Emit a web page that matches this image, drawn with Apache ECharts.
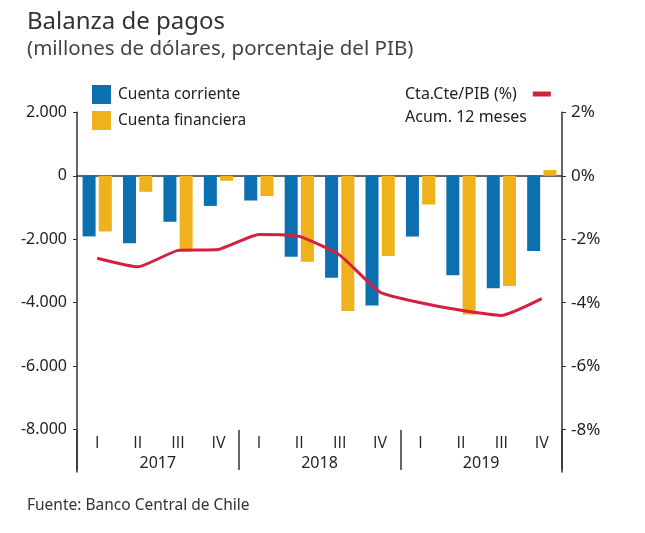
<!DOCTYPE html>
<html>
<head>
<meta charset="utf-8">
<script src="https://cdn.jsdelivr.net/npm/echarts@6/dist/echarts.min.js"></script>
<style>
html,body{margin:0;padding:0;background:#fff;}
#c{width:645px;height:533px;}
</style>
</head>
<body>
<div id="c"></div>
<script>
const quarters = ['I','II','III','IV','I','II','III','IV','I','II','III','IV'];
const years = ['2017','2018','2019'];
const cuentaCorriente = [-1910, -2125, -1450, -950, -780, -2555, -3210, -4085, -1915, -3135, -3540, -2370];
const cuentaFinanciera = [-1755, -505, -2350, -160, -640, -2705, -4260, -2525, -905, -4370, -3475, 180];
const ctaCtePIB = [-2.60, -2.87, -2.35, -2.32, -1.85, -1.91, -2.50, -3.67, -4.00, -4.24, -4.40, -3.87];
const leftTicks = [2000, 0, -2000, -4000, -6000, -8000];
const rightTicks = [2, 0, -2, -4, -6, -8];

const FONT = 'Noto Sans';
const FONT2 = 'Open Sans';
const TXT = '#222';
const AX = '#333';

const chart = echarts.init(document.getElementById('c'), null, {renderer: 'canvas'});
const fmtThousands = v => {
  const r = Math.round(v);
  const s = String(Math.abs(r)).replace(/\B(?=(\d{3})+(?!\d))/g, '.');
  return (r < 0 ? '-' : '') + s;
};
const fmtPct = v => Math.round(v) + '%';
chart.setOption({
  animation: false,
  backgroundColor: '#fff',
  textStyle: {fontFamily: FONT},
  title: [
    {text: 'Balanza de pagos', left: 27, top: 10, padding: 0,
     textStyle: {fontFamily: FONT, fontSize: 24, fontWeight: 'normal', color: '#333'}},
    {text: '(millones de dólares, porcentaje del PIB)', left: 27, top: 39, padding: 0,
     textStyle: {fontFamily: FONT, fontSize: 20.5, fontWeight: 'normal', color: '#444'}},
    {text: 'Acum. 12 meses', left: 405, top: 109, padding: 0,
     textStyle: {fontFamily: FONT, fontSize: 16, fontWeight: 'normal', color: TXT}},
    {text: 'Fuente: Banco Central de Chile', left: 27, top: 498, padding: 0,
     textStyle: {fontFamily: FONT, fontSize: 15.5, fontWeight: 'normal', color: '#333'}}
  ],
  legend: [
    {data: ['Cuenta corriente', 'Cuenta financiera'], orient: 'vertical', left: 92, top: 85, padding: 0,
     itemWidth: 19, itemHeight: 19, itemGap: 7, icon: 'rect',
     textStyle: {fontFamily: FONT, fontSize: 15.5, color: TXT, padding: [0, 0, 0, 2]}},
    {data: ['Cta.Cte/PIB (%)'], left: 405, top: 86, padding: 0, align: 'right',
     itemWidth: 18, itemHeight: 5, icon: 'rect', itemGap: 10,
     textStyle: {fontFamily: FONT, fontSize: 16, color: TXT, padding: [0, 11, 0, 0]}}
  ],
  grid: {left: 77, right: 83, top: 112.3, bottom: 61, containLabel: false},
  xAxis: [
    {type: 'category', data: quarters, gridIndex: 0,
     axisLine: {show: true, onZero: true, lineStyle: {color: AX, width: 1.5}},
     axisTick: {show: false}, axisLabel: {show: false}, splitLine: {show: false}},
    {type: 'category', data: quarters, gridIndex: 0, position: 'bottom', offset: -42,
     axisLine: {show: false}, axisTick: {show: false},
     axisLabel: {show: true, margin: 5, fontFamily: FONT2, fontSize: 16, color: TXT, interval: 0}},
    {type: 'category', data: years, gridIndex: 0, position: 'bottom', offset: -42,
     axisLine: {show: false},
     axisTick: {show: true, length: 40, interval: 0, lineStyle: {color: AX, width: 1.5}},
     axisLabel: {show: true, margin: 25, fontFamily: FONT, fontSize: 16, color: TXT, interval: 0}}
  ],
  yAxis: [
    {type: 'value', min: -28000 / 3, max: 2000, position: 'left',
     axisLine: {show: true, lineStyle: {color: AX, width: 1.5}},
     axisTick: {show: true, length: 4, customValues: leftTicks, lineStyle: {color: AX}},
     axisLabel: {show: true, customValues: leftTicks, formatter: fmtThousands, margin: 10,
                 fontFamily: FONT, fontSize: 16, color: TXT},
     splitLine: {show: false}},
    {type: 'value', min: -28 / 3, max: 2, position: 'right',
     axisLine: {show: true, lineStyle: {color: AX, width: 1.5}},
     axisTick: {show: true, length: 4, customValues: rightTicks, lineStyle: {color: AX}},
     axisLabel: {show: true, customValues: rightTicks, formatter: fmtPct, margin: 9,
                 fontFamily: FONT, fontSize: 17, color: TXT},
     splitLine: {show: false}}
  ],
  series: [
    {name: 'Cuenta corriente', type: 'bar', xAxisIndex: 0, yAxisIndex: 0, data: cuentaCorriente,
     barWidth: 13, barGap: '25%', itemStyle: {color: '#0b6fb0'}},
    {name: 'Cuenta financiera', type: 'bar', xAxisIndex: 0, yAxisIndex: 0, data: cuentaFinanciera,
     barWidth: 13, barGap: '25%', itemStyle: {color: '#efb21c'}},
    {name: 'Cta.Cte/PIB (%)', type: 'line', xAxisIndex: 0, yAxisIndex: 1, data: ctaCtePIB,
     smooth: 0.15, symbol: 'none', lineStyle: {color: '#d3203f', width: 3}, itemStyle: {color: '#d3203f'}, z: 5}
  ]
});
</script>
</body>
</html>
